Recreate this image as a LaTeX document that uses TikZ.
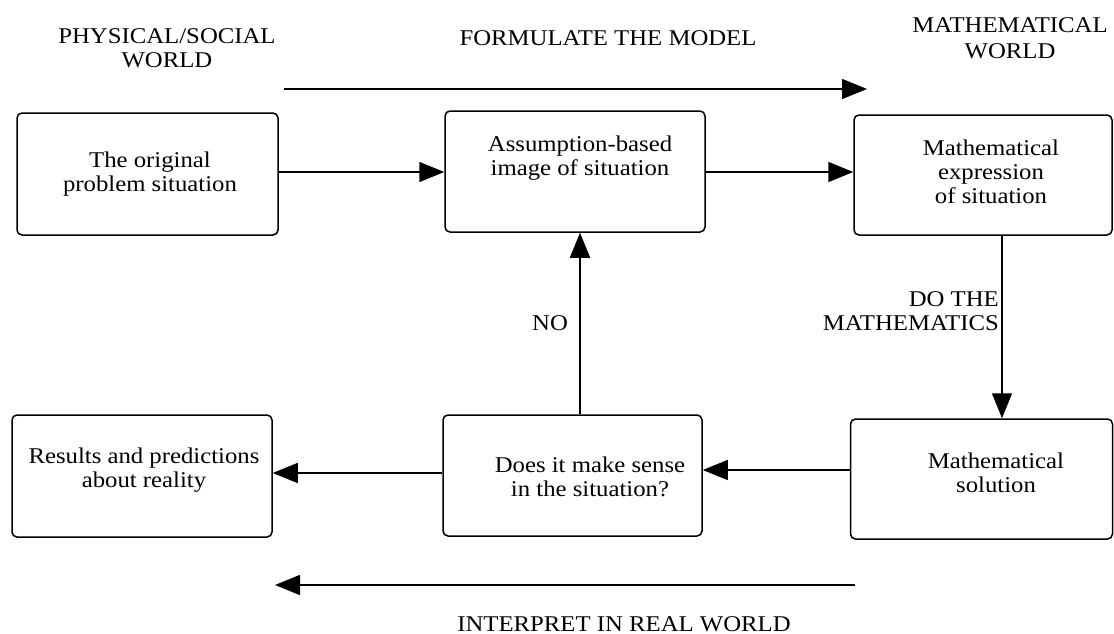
\documentclass[tikz,border=0pt]{standalone}
\usepackage{fontspec}
\setmainfont[FakeStretch=1.1]{Liberation Serif}
\usetikzlibrary{arrows.meta}
\begin{document}
\begin{tikzpicture}[x=1pt,y=-1pt,
  box/.style={draw, line width=1.5pt, rounded corners=5pt, inner sep=0pt},
  lbl/.style={align=center, inner sep=0pt},
  arr/.style={line width=1.5pt, -{Triangle[length=25pt,width=20pt]}},
  every node/.append style={font=\fontsize{22.5}{24}\selectfont}]
\useasboundingbox (0,0) rectangle (1114,634);
% titles
\node[lbl] (tphys) at (167,48) {PHYSICAL/SOCIAL\\WORLD};
\node[lbl] (tform) at (608,38) {FORMULATE THE MODEL};
\node[lbl, font=\fontsize{22.5}{26}\selectfont] (tmath) at (1010,38) {MATHEMATICAL\\WORLD};
% boxes
\node[box, minimum width=261pt, minimum height=122pt] (b1) at (147.5,174) {};
\node[box, minimum width=260pt, minimum height=121pt] (b2) at (575,171.5) {};
\node[box, minimum width=258pt, minimum height=120pt] (b3) at (983,175) {};
\node[box, minimum width=262pt, minimum height=120pt] (b4) at (981.5,479) {};
\node[box, minimum width=259pt, minimum height=121pt] (b5) at (572.5,475.5) {};
\node[box, minimum width=260pt, minimum height=122pt] (b6) at (142,476) {};
% box texts
\node[lbl] (b1t) at (150,174) {The original\\problem situation};
\node[lbl] (b2t) at (580,158) {Assumption-based\\image of situation};
\node[lbl] (b3t) at (991,172) {Mathematical\\expression\\of situation};
\node[lbl] (b4t) at (996,473) {Mathematical\\solution};
\node[lbl] (b5t) at (590,477) {Does it make sense\\in the situation?};
\node[lbl] (b6t) at (144,470) {Results and predictions\\about reality};
% guide coordinates
\coordinate (mx) at (1002,0);
\coordinate (nx) at (580,0);
\coordinate (r1) at (0,172);
\coordinate (r2a) at (0,470);
\coordinate (r2b) at (0,473);
\coordinate (ta) at (284,89);
\coordinate (tb) at (867,89);
\coordinate (ba) at (855,585);
\coordinate (bb) at (275,585);
% connectors
\draw[arr] (ta) -- (tb);
\draw[arr] (b1.east |- r1) -- (b2.west |- r1);
\draw[arr] (b2.east |- r1) -- (b3.west |- r1);
\draw[arr] (b3.south -| mx) -- (b4.north -| mx);
\draw[arr] (b4.west |- r2a) -- (b5.east |- r2a);
\draw[arr] (b5.west |- r2b) -- (b6.east |- r2b);
\draw[arr] (b5.north -| nx) -- (b2.south -| nx);
\draw[arr] (ba) -- (bb);
% labels
\node[lbl] (no) at (550,323) {NO};
\node[lbl, align=right, anchor=east] (dothe) at (999,311) {DO THE\\MATHEMATICS};
\node[lbl] (interp) at (624,624) {INTERPRET IN REAL WORLD};
\end{tikzpicture}
\end{document}
